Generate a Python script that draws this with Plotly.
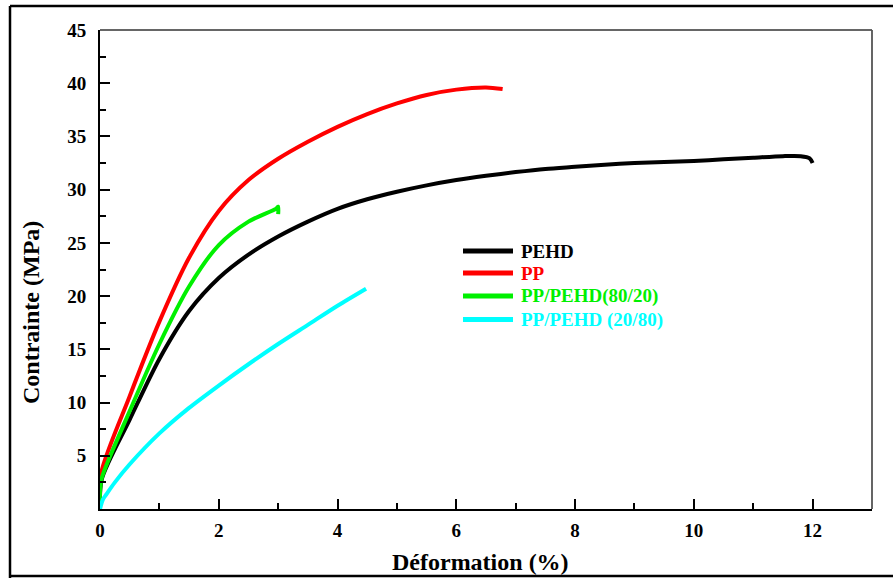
import plotly.graph_objects as go

# Stress-strain curves (strain in %, stress in MPa)
pehd_x = [0, 0.03, 0.5, 1.0, 1.5, 2.0, 2.5, 3.0, 3.5, 4.0, 4.5, 5.0, 5.5, 6.0, 6.5, 7.0,
          7.5, 8.0, 8.5, 9.0, 9.5, 10.0, 10.5, 11.0, 11.5, 11.8, 11.95, 12.0]
pehd_y = [0, 2.8, 8.4, 14.1, 18.6, 21.7, 23.9, 25.6, 27.0, 28.2, 29.1, 29.8, 30.4, 30.9, 31.3, 31.65,
          31.95, 32.15, 32.35, 32.5, 32.6, 32.7, 32.85, 33.0, 33.15, 33.15, 32.95, 32.5]

pp_x = [0, 0.02, 0.5, 1.0, 1.5, 2.0, 2.5, 3.0, 3.5, 4.0, 4.5, 5.0, 5.5, 6.0, 6.5, 6.78]
pp_y = [0, 3.4, 10.6, 17.6, 23.6, 28.0, 30.9, 32.9, 34.5, 35.9, 37.1, 38.1, 38.9, 39.4, 39.6, 39.45]

blend8020_x = [0, 0.0, 0.03, 0.5, 1.0, 1.5, 2.0, 2.5, 2.96, 3.0, 3.0]
blend8020_y = [0, 1.5, 2.9, 9.2, 15.5, 20.9, 24.8, 27.0, 28.2, 28.4, 27.7]

blend2080_x = [0, 0.05, 0.11, 0.25, 0.5, 1.0, 1.5, 2.0, 2.5, 3.0, 3.5, 4.0, 4.48]
blend2080_y = [0, 0.9, 1.4, 2.5, 4.2, 7.1, 9.5, 11.6, 13.6, 15.5, 17.3, 19.1, 20.7]

series_names = ["PEHD", "PP", "PP/PEHD(80/20)", "PP/PEHD (20/80)"]
series_colors = ["#000000", "#ff0000", "#00f000", "#00ffff"]
series_x = [pehd_x, pp_x, blend8020_x, blend2080_x]
series_y = [pehd_y, pp_y, blend8020_y, blend2080_y]

x_ticks = [0, 2, 4, 6, 8, 10, 12]
y_ticks = [5, 10, 15, 20, 25, 30, 35, 40, 45]

SERIF = "Liberation Serif, Times New Roman, serif"

fig = go.Figure()
for name, color, xs, ys in zip(series_names, series_colors, series_x, series_y):
    fig.add_trace(go.Scatter(
        x=xs, y=ys, mode="lines", name=name,
        line=dict(color=color, width=4, shape="spline", smoothing=0.8),
        showlegend=False,
    ))

W, H = 893, 578
L, R, T, B = 100, 21, 30, 69
pw, ph = W - L - R, H - T - B


def px_x(p):
    return (p - L) / pw


def px_y(p):
    return (H - B - p) / ph


shapes = []
annotations = []

# Legend: colored line samples with matching colored labels
legend_rows = [251, 273, 296, 319.5]
for name, color, row in zip(series_names, series_colors, legend_rows):
    shapes.append(dict(type="line", xref="paper", yref="paper",
                       x0=px_x(463), x1=px_x(513), y0=px_y(row), y1=px_y(row),
                       line=dict(color=color, width=5)))
    annotations.append(dict(xref="paper", yref="paper", x=px_x(519), y=px_y(row),
                            xanchor="left", yanchor="middle", showarrow=False,
                            text="<b>%s</b>" % name,
                            font=dict(family=SERIF, size=19, color=color)))

# Top and right edges of the plotting box
shapes.append(dict(type="line", xref="paper", yref="paper", x0=0, x1=1, y0=1, y1=1,
                   line=dict(color="#333333", width=1.5)))
shapes.append(dict(type="line", xref="paper", yref="paper", x0=1, x1=1, y0=0, y1=1,
                   line=dict(color="#555555", width=1.8)))

# Outer frame around the figure
shapes.append(dict(type="line", xref="paper", yref="paper",
                   x0=px_x(10), x1=px_x(10), y0=px_y(6), y1=px_y(578),
                   line=dict(color="black", width=2.5)))
shapes.append(dict(type="line", xref="paper", yref="paper",
                   x0=px_x(10), x1=px_x(893), y0=px_y(6), y1=px_y(6),
                   line=dict(color="black", width=2.5)))
shapes.append(dict(type="line", xref="paper", yref="paper",
                   x0=px_x(10), x1=px_x(893), y0=px_y(576), y1=px_y(576),
                   line=dict(color="black", width=2.5)))

# Axis titles
annotations.append(dict(xref="paper", yref="paper", x=px_x(480), y=px_y(562),
                        xanchor="center", yanchor="middle", showarrow=False,
                        text="<b>Déformation (%)</b>",
                        font=dict(family=SERIF, size=24, color="black")))
annotations.append(dict(xref="paper", yref="paper", x=px_x(31), y=px_y(313),
                        xanchor="center", yanchor="middle", showarrow=False, textangle=-90,
                        text="<b>Contrainte (MPa)</b>",
                        font=dict(family=SERIF, size=24, color="black")))

tick_font = dict(family=SERIF, size=19, color="black", weight="bold")

fig.update_layout(
    width=W, height=H,
    margin=dict(l=L, r=R, t=T, b=B),
    paper_bgcolor="white", plot_bgcolor="white",
    shapes=shapes, annotations=annotations,
    xaxis=dict(range=[0, 13], tickmode="array", tickvals=x_ticks,
               ticktext=[str(v) for v in x_ticks],
               ticks="inside", ticklen=10, tickwidth=1.5, tickcolor="black",
               minor=dict(ticks="inside", ticklen=6, tickwidth=1.5, tickcolor="black",
                          tickmode="linear", tick0=0, dtick=1),
               showline=True, linecolor="black", linewidth=2,
               showgrid=False, zeroline=False, tickfont=tick_font,
               ticklabelstandoff=3),
    yaxis=dict(range=[0, 45], tickmode="array", tickvals=y_ticks,
               ticktext=[str(v) for v in y_ticks],
               ticks="inside", ticklen=10, tickwidth=1.5, tickcolor="black",
               minor=dict(ticks="inside", ticklen=6, tickwidth=1.5, tickcolor="black",
                          tickmode="linear", tick0=0, dtick=2.5),
               showline=True, linecolor="black", linewidth=2,
               showgrid=False, zeroline=False, tickfont=tick_font,
               ticklabelstandoff=8),
)

fig.write_html("out.html")
